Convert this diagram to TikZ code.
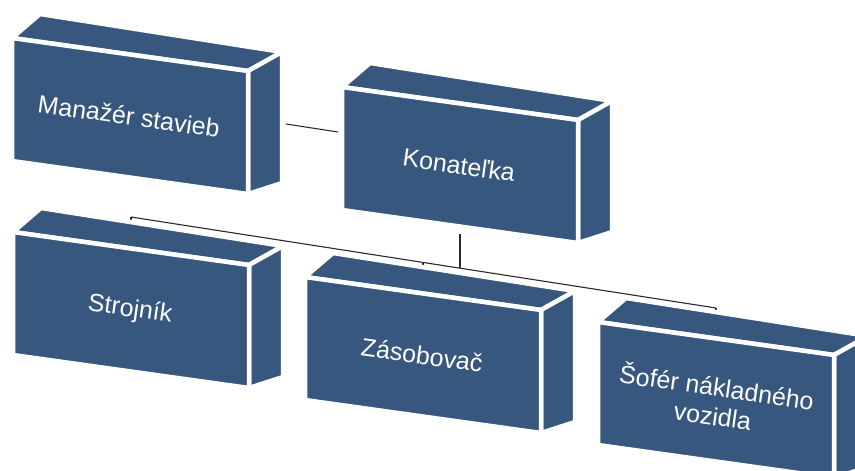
\documentclass[tikz,border=0pt]{standalone}
\usepackage{fontspec}
\setmainfont{Liberation Sans}
\definecolor{boxblue}{HTML}{37577F}
\definecolor{lineclr}{HTML}{2A2A2A}
\tikzset{
  face/.style={fill=boxblue, draw=white, line width=4.5pt, line join=miter},
  lbl/.style={text=white, font=\fontsize{25}{29}\selectfont, align=center, rotate=-8, inner sep=0pt},
  conn/.style={draw=lineclr, line width=1.1pt}
}
% #1 name, #2 x, #3 y (front top-left, y downward), #4 text
\newcommand\orgbox[4]{%
  \filldraw[face] (#2,#3) -- ({#2+236},{#3+33}) -- ({#2+270},{#3+14}) -- ({#2+28},{#3-24}) -- cycle;
  \filldraw[face] ({#2+236},{#3+33}) -- ({#2+236},{#3+156}) -- ({#2+270},{#3+145}) -- ({#2+270},{#3+14}) -- cycle;
  \filldraw[face] (#2,#3) -- ({#2+236},{#3+33}) -- ({#2+236},{#3+156}) -- (#2,{#3+123}) -- cycle;
  \node[lbl] (#1) at ({#2+117},{#3+78}) {#4};
}
\newcommand\boxanchors[3]{%
  \coordinate (#1-top) at ({#2+118},{#3+16.5});
  \coordinate (#1-bot) at ({#2+118},{#3+139.5});
  \coordinate (#1-side) at ({#2+274},{#3+86});
  \coordinate (#1-left) at ({#2-4},{#3+45});
}
\begin{document}
\begin{tikzpicture}[x=1pt,y=-1pt]
\useasboundingbox (0,0) rectangle (855,471);
\clip (0,0) rectangle (855,471);
% anchors
\boxanchors{m}{12}{38}
\boxanchors{k}{342}{87}
\boxanchors{s}{13}{232}
\boxanchors{z}{305}{277}
\boxanchors{f}{598}{322}
% bus coordinates
\coordinate (busL) at (131,217);
\coordinate (busK) at (460,268.2);
\coordinate (busZ) at (423,262.5);
\coordinate (busR) at (716,308);
% connectors
\draw[conn] (m-side) -- (k-left);
\draw[conn, shorten >=7pt] (busK) -- (k-bot);
\draw[conn] (busL) -- (busR);
\draw[conn] (busL) -- (s-top);
\draw[conn] (busZ) -- (z-top);
\draw[conn] (busR) -- (f-top);
% boxes
\orgbox{m}{12}{38}{Manažér stavieb}
\orgbox{k}{342}{87}{Konateľka}
\orgbox{s}{13}{232}{Strojník}
\orgbox{z}{305}{277}{Zásobovač}
\orgbox{f}{598}{322}{Šofér nákladného\\vozidla}
\end{tikzpicture}
\end{document}
